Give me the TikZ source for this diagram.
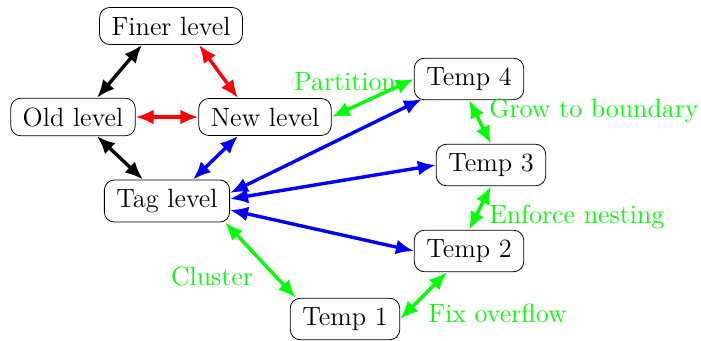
\documentclass[tikz,border=0pt]{standalone}
\usetikzlibrary{arrows.meta}
\definecolor{lgreen}{RGB}{0,255,0}
\definecolor{lblue}{RGB}{0,0,255}
\definecolor{lred}{RGB}{255,0,0}
\begin{document}
\begin{tikzpicture}[x=0.5pt,y=-0.5pt,
  bigfont/.style={font=\fontsize{13.2}{16}\selectfont},
  box/.style={draw, rounded corners=5pt, inner xsep=6pt, inner ysep=4.6pt, bigfont, fill=white},
  lbl/.style={bigfont, text=lgreen, inner sep=0pt},
  link/.style={{Latex[length=9pt,width=7.5pt]}-{Latex[length=9pt,width=7.5pt]}, line width=1.7pt}]
\useasboundingbox (0,0) rectangle (701,341);
\node[box] (fin) at (171,26) {Finer level};
\node[box] (old) at (73,117) {Old level};
\node[box] (new) at (265,117) {New level};
\node[box] (tag) at (167,201) {Tag level};
\node[box] (t4) at (469,79) {Temp 4};
\node[box] (t3) at (491,165) {Temp 3};
\node[box] (t2) at (469,251) {Temp 2};
\node[box] (t1) at (345,319) {Temp 1};
\draw[link, black] ([xshift=-14.5pt]fin.south) -- ([xshift=12pt]old.north);
\draw[link, lred] ([xshift=14pt]fin.south) -- ([xshift=-13.5pt]new.north);
\draw[link, lred] (old.east) -- (new.west);
\draw[link, black] ([xshift=12pt]old.south) -- ([xshift=-12pt]tag.north);
\draw[link, lblue] ([xshift=-13.5pt]new.south) -- ([xshift=13pt]tag.north);
\draw[link, lgreen] (t4.west) -- (new.east);
\draw[link, lblue] ([xshift=4pt,yshift=0.5pt]t4.south west) -- ([yshift=4pt]tag.east);
\draw[link, lblue] (t3.west) -- ([yshift=1pt]tag.east);
\draw[link, lblue] (t2.west) -- ([yshift=-4.5pt]tag.east);
\draw[link, lgreen] (t4.south) -- (t3.north);
\draw[link, lgreen] (t3.south) -- (t2.north);
\draw[link, lgreen] ([xshift=-2.5pt]tag.south east) -- ([xshift=3pt]t1.north west);
\draw[link, lgreen] ([xshift=-11pt]t2.south) -- (t1.east);
\node[lbl, anchor=center] (lpart) at (345,82) {Partition};
\node[lbl, anchor=west] (lgrow) at (489,111) {Grow to boundary};
\node[lbl, anchor=west] (lenf) at (489,217) {Enforce nesting};
\node[lbl, anchor=center] (lclu) at (212,276) {Cluster};
\node[lbl, anchor=west] (lfix) at (428,313) {Fix overflow};
\end{tikzpicture}
\end{document}
